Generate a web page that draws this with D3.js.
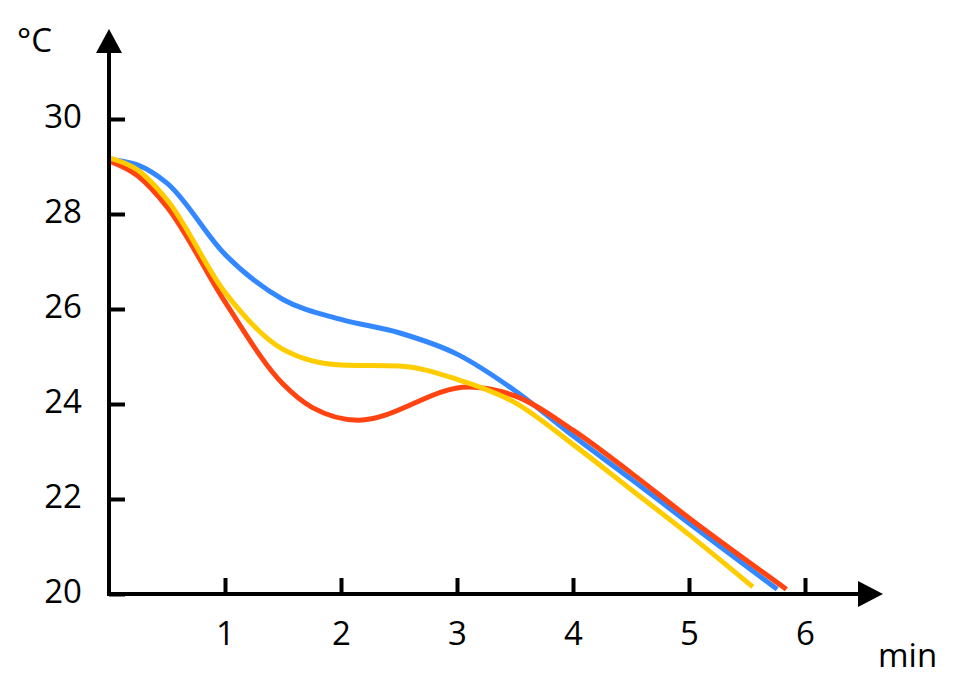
<!DOCTYPE html>
<html>
<head>
<meta charset="utf-8">
<script src="https://cdn.jsdelivr.net/npm/d3@7"></script>
<style>
  body { margin: 0; background: #fff; }
  text { font-family: "Open Sans", "Noto Sans", sans-serif; fill: #000; }
</style>
</head>
<body>
<div id="chart"></div>
<script>
// Cooling curves, temperature in °C over time in minutes
const blueTime = [0, 0.25, 0.5, 1, 1.5, 2, 2.5, 3, 3.5, 4, 4.5, 5, 5.76];
const blueTemp = [29.15, 29.03, 28.65, 27.15, 26.2, 25.78, 25.5, 25.05, 24.28, 23.33, 22.42, 21.49, 20.1];

const yellowTime = [0, 0.25, 0.5, 1, 1.5, 2, 2.5, 3, 3.5, 4, 4.5, 5, 5.55];
const yellowTemp = [29.18, 28.92, 28.3, 26.35, 25.15, 24.82, 24.8, 24.52, 24.03, 23.15, 22.2, 21.25, 20.15];

const redTime = [0, 0.25, 0.5, 1, 1.5, 1.75, 2.15, 3.1, 3.5, 4, 4.5, 5, 5.84];
const redTemp = [29.12, 28.8, 28.15, 26.15, 24.42, 23.93, 23.66, 24.36, 24.17, 23.45, 22.55, 21.6, 20.1];

const xTicks = [1, 2, 3, 4, 5, 6];
const yTicks = [20, 22, 24, 26, 28, 30];

const width = 960;
const height = 686;

const svg = d3.select('#chart')
  .append('svg')
  .attr('width', width)
  .attr('height', height);

const x = d3.scaleLinear().domain([0, 6]).range([109, 805]);
const y = d3.scaleLinear().domain([20, 30]).range([594, 119]);

// series, drawn blue first, then red, yellow on top
const series = [
  { time: blueTime, temp: blueTemp, color: '#3388ff' },
  { time: redTime, temp: redTemp, color: '#ff4411' },
  { time: yellowTime, temp: yellowTemp, color: '#ffcc00' }
];

const line = d3.line()
  .x(d => x(d[0]))
  .y(d => y(d[1]))
  .curve(d3.curveMonotoneX);

svg.selectAll('path.series')
  .data(series)
  .join('path')
  .attr('class', 'series')
  .attr('d', s => line(s.time.map((t, i) => [t, s.temp[i]])))
  .attr('fill', 'none')
  .attr('stroke', s => s.color)
  .attr('stroke-width', 5);

// x axis
const xAxis = svg.append('g')
  .attr('transform', `translate(0,${y(20)})`)
  .call(d3.axisBottom(x).tickValues(xTicks).tickSize(-16).tickPadding(28).tickFormat(d3.format('d')));
xAxis.select('.domain').remove();
xAxis.selectAll('line').attr('stroke', '#000').attr('stroke-width', 4);
xAxis.selectAll('text').style('font-size', '33px');

// y axis
const yAxis = svg.append('g')
  .attr('transform', `translate(${x(0)},0)`)
  .call(d3.axisLeft(y).tickValues(yTicks).tickSize(-16).tickPadding(27).tickFormat(d3.format('d')));
yAxis.select('.domain').remove();
yAxis.selectAll('line').attr('stroke', '#000').attr('stroke-width', 4);
yAxis.selectAll('text').style('font-size', '33px').attr('dy', '0.25em');

// axis lines with arrow heads
svg.append('line')
  .attr('x1', x(0) - 2).attr('y1', y(20))
  .attr('x2', 862).attr('y2', y(20))
  .attr('stroke', '#000').attr('stroke-width', 4);
svg.append('path')
  .attr('d', `M858,${y(20) - 13}L883,${y(20)}L858,${y(20) + 13}Z`)
  .attr('fill', '#000');

svg.append('line')
  .attr('x1', x(0)).attr('y1', y(20) + 2)
  .attr('x2', x(0)).attr('y2', 50)
  .attr('stroke', '#000').attr('stroke-width', 4);
svg.append('path')
  .attr('d', `M${x(0) - 13},53L${x(0)},29L${x(0) + 13},53Z`)
  .attr('fill', '#000');

// axis unit labels
svg.append('text')
  .attr('x', 17).attr('y', 52)
  .style('font-size', '33px')
  .text('°C');
svg.append('text')
  .attr('x', 878).attr('y', 667)
  .style('font-size', '33px')
  .text('min');
</script>
</body>
</html>
